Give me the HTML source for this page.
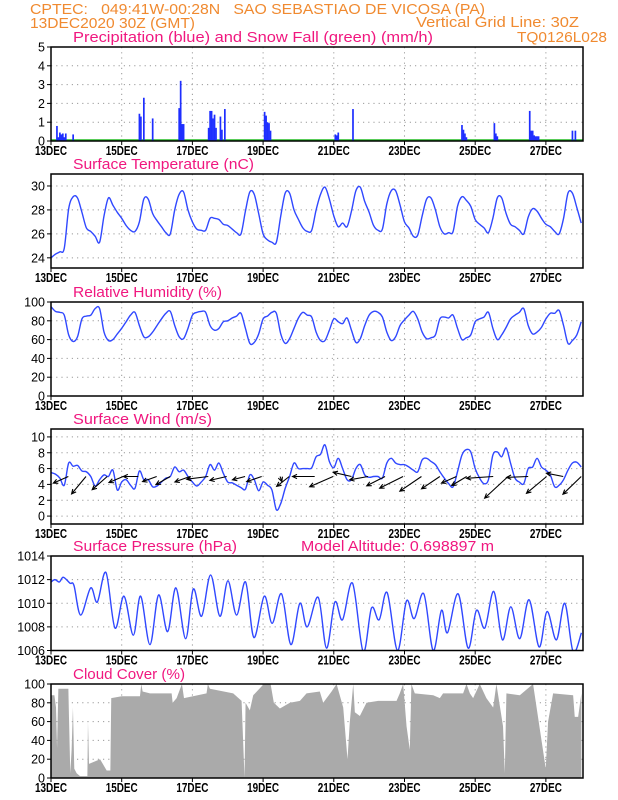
<!DOCTYPE html>
<html><head><meta charset="utf-8"><style>
html,body{margin:0;padding:0;background:#fff;}
svg{display:block;font-family:"Liberation Sans",sans-serif;}
text{white-space:pre;}
</style></head><body>
<svg id="chart" width="618" height="800" viewBox="0 0 618 800" xmlns="http://www.w3.org/2000/svg" xml:space="preserve"></svg>
<script>
// ---------- DATA ----------
const dayLabels = ["13DEC","15DEC","17DEC","19DEC","21DEC","23DEC","25DEC","27DEC"];
const precipHour = [4,5,6,7,8,9,10,15,60,61,63,69,87,88,89,90,107,108,109,110,111,112,115,116,118,145,146,147,148,149,193,194,195,205,279,280,281,282,301,302,303,325,326,327,328,329,330,331,354,356];
const precipVal = [0.8,0.2,0.45,0.35,0.4,0.2,0.4,0.35,1.45,1.3,2.3,1.2,1.75,3.2,0.9,0.9,0.7,1.6,1.6,1.2,1.4,0.7,1.3,0.6,1.7,1.55,1.35,1.0,0.95,0.55,0.35,0.3,0.45,1.7,0.85,0.6,0.4,0.2,0.95,0.4,0.25,1.6,0.55,0.55,0.3,0.25,0.25,0.25,0.55,0.55];
const precipTicks = [0,1,2,3,4,5];
const tempVals = [24.0,24.3,24.5,24.8,28.1,29.1,29.0,27.8, 26.5,26.2,25.8,25.3,27.5,29.0,28.4,27.8, 27.3,26.7,26.3,26.2,27.0,28.9,28.9,27.7, 27.1,26.6,26.1,26.0,28.0,29.3,29.5,28.0, 27.0,26.4,26.3,26.3,27.3,27.3,27.2,26.8, 26.7,26.4,26.1,26.0,27.9,29.5,29.3,27.7, 26.0,25.5,25.3,25.3,27.5,29.4,29.4,28.0, 27.2,26.5,26.2,26.3,28.0,29.3,29.9,28.9, 27.5,26.6,26.9,26.6,27.9,29.6,29.9,28.7, 27.8,26.7,26.3,26.4,28.5,29.6,29.6,28.4, 27.0,26.5,25.8,25.9,27.5,28.9,29.0,28.0, 26.6,26.0,26.1,26.2,28.3,29.1,28.8,28.3, 27.2,26.8,26.5,26.1,27.3,29.0,29.0,27.7, 26.8,26.6,26.3,26.0,27.4,28.1,27.9,27.3, 26.8,26.6,26.2,26.0,27.3,29.4,29.4,28.2, 26.9];
const tempTicks = [24,26,28,30];
const rhVals = [95,90,89,86,65,58,63,82, 85,86,93,93,68,59,60,66, 72,79,86,89,75,63,63,68, 75,82,88,90,75,63,61,72, 86,89,90,89,75,70,72,79, 80,83,85,88,72,56,57,66, 82,85,89,88,66,56,61,72, 83,89,86,84,68,59,59,70, 82,79,77,83,70,57,61,75, 86,90,89,84,68,59,63,75, 81,86,90,82,68,61,62,65, 82,84,83,86,72,60,62,65, 79,82,84,89,72,60,65,73, 82,86,89,93,75,66,68,73, 82,88,88,91,75,56,59,65, 79];
const rhTicks = [0,20,40,60,80,100];
const windVals = [5.5,5.3,4.8,3.9,6.7,6.3,6.4,5.7, 5.6,5.0,3.8,4.6,5.2,5.0,5.8,3.3, 4.3,4.6,3.9,3.5,5.7,4.6,4.6,3.7, 3.8,4.3,4.8,5.0,6.2,5.6,5.8,5.0, 4.3,3.8,4.3,5.0,6.5,5.8,6.7,5.4, 4.3,4.2,3.9,3.6,3.4,5.2,4.6,3.2, 4.3,3.9,3.3,0.8,1.6,3.5,5.0,6.7, 6.0,6.0,6.0,6.1,7.5,7.8,9.0,6.9, 6.1,7.3,6.0,4.6,4.6,6.0,6.5,5.2, 4.9,5.0,5.0,4.8,6.7,7.3,6.7,6.5, 6.5,6.2,5.8,5.6,7.1,7.3,6.9,6.5, 5.6,4.8,4.1,3.7,5.6,7.7,8.4,8.1, 6.0,4.8,4.1,4.6,7.7,8.1,7.5,8.6, 6.7,4.8,4.3,4.1,6.0,6.2,7.3,6.2, 5.8,5.2,3.7,3.9,4.6,5.8,6.7,6.8, 6.2];
const windTicks = [0,2,4,6,8,10];
const arrowDay = [0.49,0.99,1.59,2.04,2.47,2.99,3.37,3.93,4.45,4.97,5.49,5.96,6.48,6.74,7.46,7.98,8.50,8.97,9.45,9.96,10.48,11.0,11.47,11.76,12.51,12.93,13.5,14.02,14.49,15.0];
const arrowU = [-5,-4.8,-5,-4.7,-5,-4.7,-4.7,-5,-7.2,-5.6,-4.2,-5,0.6,-4.2,-7.4,-7.8,-6.1,-6.1,-6.1,-7.8,-7.2,-6.1,-5,-5,-8.9,-7.8,-7.2,-6.7,-5.6,-6.1];
const arrowV = [-2.2,-5.8,-4.4,-2,0,-1.7,-2.7,-1.8,-0.9,-1.3,-1.1,-1.7,-1.7,-3.3,0,-3.4,1.4,-1.1,-3.1,-3.9,-4.9,-4.1,-2.2,-3,-0.6,-7.2,-0.3,-5.6,1.1,-5.9];
const presDay = [0,0.113,0.236,0.349,0.537,0.650,0.839,1.122,1.310,1.555,1.810,2.064,2.328,2.535,2.799,3.044,3.299,3.534,3.808,4.024,4.260,4.515,4.779,5.005,5.250,5.504,5.740,6.032,6.258,6.522,6.786,7.040,7.248,7.559,7.795,8.030,8.247,8.530,8.831,9.067,9.284,9.510,9.802,10.057,10.273,10.547,10.811,11.046,11.216,11.518,11.800,12.036,12.272,12.526,12.771,13.007,13.261,13.525,13.808,14.034,14.298,14.534,14.770,15.006];
const presVal = [1011.8,1012.0,1011.8,1012.2,1011.7,1011.5,1009.0,1011.3,1010.1,1012.6,1007.9,1010.6,1007.3,1010.6,1006.5,1010.7,1007.6,1011.3,1007.0,1011.2,1008.9,1012.4,1008.9,1011.9,1009.0,1011.8,1007.1,1010.6,1008.3,1010.8,1006.5,1010.0,1008.0,1010.5,1006.2,1010.1,1008.6,1011.7,1005.9,1009.6,1008.6,1010.9,1006.0,1010.2,1008.7,1010.8,1006.0,1009.4,1007.5,1010.8,1006.2,1009.4,1007.9,1011.0,1006.9,1009.7,1007.0,1010.3,1006.3,1009.3,1006.9,1010.0,1005.9,1007.5];
const presTicks = [1006,1008,1010,1012,1014];
const cloudHour = [0,2.3,3.4,4.1,5.0,11.8,12.2,13.1,14.0,14.9,15.8,17.4,19.7,24.7,25.1,25.8,33.3,37.8,40.3,40.9,48.0,60.4,61.3,62.2,67.2,81.9,82.6,85.3,88.9,90.3,105.6,106.5,107.9,123.7,129.4,131.4,132.1,135.0,137.3,144.5,149.1,151.3,155.4,162.2,169.0,173.5,182.5,184.8,190.5,193.9,198.4,201.3,202.9,205.2,206.3,209.7,214.2,222.1,234.6,236.8,239.1,241.4,243.6,244.7,247.0,259.5,264.0,266.2,279.8,282.1,284.4,286.6,291.1,295.6,300.2,302.4,306.9,308.1,309.2,318.3,327.3,335.9,337.5,340.9,354.5,355.6,357.9,360.1];
const cloudVal = [88,88,75,32,95,95,65,5,30,75,10,5,2,2,60,15,20,8,8,85,87,87,100,92,90,90,80,85,100,85,90,100,95,90,82,0,80,72,88,100,100,80,74,80,82,90,92,80,92,100,75,20,60,100,70,66,80,82,82,90,100,55,30,100,90,88,85,90,90,100,90,85,100,85,75,100,55,5,90,88,100,10,60,90,88,65,65,90];
const cloudTicks = [0,20,40,60,80,100];

// ---------- LAYOUT ----------
const NS = "http://www.w3.org/2000/svg";
const svg = document.getElementById("chart");
const X0 = 51, X1 = 583, DMAX = 15.05;
const ORANGE = "#f08a30", PINK = "#f0177f", BLUE = "#3048ff";
function xs(d){ return X0 + (X1 - X0) * d / DMAX; }
function mk(tag, attrs, parent){
  const e = document.createElementNS(NS, tag);
  for (const k in attrs) e.setAttribute(k, attrs[k]);
  (parent || svg).appendChild(e);
  return e;
}
function txt(s, x, y, size, color, anchor, len, name){
  const t = mk("text", {x:x, y:y, "font-size":size, fill:color, "text-anchor":anchor||"start"});
  if (len) { t.setAttribute("textLength", len); t.setAttribute("lengthAdjust", "spacingAndGlyphs"); }
  t.textContent = s;
  
  
  return t;
}
function smooth(pts){
  let d = "M" + pts[0][0].toFixed(2) + "," + pts[0][1].toFixed(2);
  for (let i = 0; i < pts.length - 1; i++){
    const p0 = pts[Math.max(0,i-1)], p1 = pts[i], p2 = pts[i+1], p3 = pts[Math.min(pts.length-1,i+2)];
    const c1x = p1[0] + (p2[0]-p0[0])/6, c1y = p1[1] + (p2[1]-p0[1])/6;
    const c2x = p2[0] - (p3[0]-p1[0])/6, c2y = p2[1] - (p3[1]-p1[1])/6;
    d += "C" + c1x.toFixed(2)+","+c1y.toFixed(2)+" "+c2x.toFixed(2)+","+c2y.toFixed(2)+" "+p2[0].toFixed(2)+","+p2[1].toFixed(2);
  }
  return d;
}

// header
txt("CPTEC:   049:41W-00:28N   SAO SEBASTIAO DE VICOSA (PA)", 30, 14, 15, ORANGE, "start", 455, "station-header");
txt("13DEC2020 30Z (GMT)", 30, 28, 15, ORANGE, "start", 165, "date-header");
txt("Vertical Grid Line: 30Z", 579, 27, 15, ORANGE, "end", 163, "grid-line-note");
txt("TQ0126L028", 607, 42, 15, ORANGE, "end", 90, "model-name");

function panel(name, top, bottom, min, max, ticks, title, titleLen, tickFmt){
  const g = mk("g", {});
  
  
  const ys = v => bottom - (v - min) / (max - min) * (bottom - top);
  const cid = name + "-clip";
  const cp = mk("clipPath", {id: cid}, g);
  mk("rect", {x:X0, y:top, width:X1-X0, height:bottom-top}, cp);
  ticks.forEach(v => {
    const y = ys(v);
    const l = mk("line", {x1:X0, x2:X1, y1:y, y2:y, stroke:"#999", "stroke-width":1, "stroke-dasharray":"1.2,4"}, g);
    
    
    mk("line", {x1:X0-4, x2:X0, y1:y, y2:y, stroke:"#000", "stroke-width":1}, g);
    const t = txt(tickFmt ? tickFmt(v) : String(v), X0-6, y+4.5, 12.5, "#000", "end", null, name + "-y-tick-label");
    g.appendChild(t);
  });
  dayLabels.forEach((s, i) => {
    const x = xs(i*2);
    if (i > 0) {
      const l = mk("line", {x1:x, x2:x, y1:top, y2:bottom, stroke:"#999", "stroke-width":1, "stroke-dasharray":"1.2,4"}, g);
      
      
    }
    mk("line", {x1:x, x2:x, y1:bottom, y2:bottom+4, stroke:"#000", "stroke-width":1}, g);
    const t = txt(s, x, bottom+14, 12.5, "#000", "middle", 32, name + "-x-tick-label");
    t.setAttribute("font-weight", "bold");
    g.appendChild(t);
  });
  const tt = txt(title, 73, top-5, 15, PINK, "start", titleLen, name + "-title");
  g.appendChild(tt);
  return {g, ys, top, bottom, clip:"url(#"+cid+")"};
}
function frame(p, name){
  const r = mk("rect", {x:X0, y:p.top, width:X1-X0, height:p.bottom-p.top, fill:"none", stroke:"#000", "stroke-width":1.5}, p.g);
  
  
}

// ---- Panel 1 precip
const p1 = panel("precip", 47, 141, 0, 5, precipTicks, "Precipitation (blue) and Snow Fall (green) (mm/h)", 360);
const snow = mk("line", {x1:X0, x2:X1, y1:140.3, y2:140.3, stroke:"#22bb22", "stroke-width":2}, p1.g);


precipHour.forEach((h, i) => {
  const x = xs(h/24), y = p1.ys(precipVal[i]);
  const b = mk("rect", {x:x-0.8, y:y, width:1.7, height:p1.bottom - y, fill:"#1e2eff"}, p1.g);
  
  
});
frame(p1, "precip");

const t3h = i => i * 3 / 24;
function linePanel(p, vals, name){
  const pts = vals.map((v, i) => [xs(t3h(i)), p.ys(v)]);
  const path = mk("path", {d:smooth(pts), fill:"none", stroke:BLUE, "stroke-width":1.4, "clip-path":p.clip}, p.g);
  
  
}
const p2 = panel("temperature", 174, 268, 23.15, 31, tempTicks, "Surface Temperature (nC)", 181);
linePanel(p2, tempVals, "temperature");
frame(p2, "temperature");
const p3 = panel("humidity", 302, 396, 0, 100, rhTicks, "Relative Humidity (%)", 149);
linePanel(p3, rhVals, "humidity");
frame(p3, "humidity");
const p4 = panel("wind", 429, 524, -1, 11, windTicks, "Surface Wind (m/s)", 139);
linePanel(p4, windVals, "wind-speed");
arrowDay.forEach((d, i) => {
  const x0 = xs(d), y0 = p4.ys(5);
  const x1 = x0 + arrowU[i]*3, y1 = y0 - arrowV[i]*3;
  const ang = Math.atan2(y1-y0, x1-x0);
  const hl = 5;
  const a1 = [x1 - hl*Math.cos(ang-0.45), y1 - hl*Math.sin(ang-0.45)];
  const a2 = [x1 - hl*Math.cos(ang+0.45), y1 - hl*Math.sin(ang+0.45)];
  const ar = mk("path", {d:"M"+x0+","+y0+"L"+x1+","+y1+"M"+a1[0]+","+a1[1]+"L"+x1+","+y1+"L"+a2[0]+","+a2[1], fill:"none", stroke:"#000", "stroke-width":1.1}, p4.g);
  
  
});
frame(p4, "wind");
const p5 = panel("pressure", 556, 650.5, 1006, 1014, presTicks, "Surface Pressure (hPa)", 164);
const ppts = presDay.map((d, i) => [xs(d), p5.ys(presVal[i])]);
const pp = mk("path", {d:smooth(ppts), fill:"none", stroke:BLUE, "stroke-width":1.4, "clip-path":p5.clip}, p5.g);


txt("Model Altitude: 0.698897 m", 301, 551, 15, PINK, "start", 193, "model-altitude");
frame(p5, "pressure");
const p6 = panel("cloud", 684, 778, 0, 100, cloudTicks, "Cloud Cover (%)", 112);
let cd = "M" + xs(0) + "," + p6.bottom;
cloudHour.forEach((h, i) => { cd += "L" + xs(h/24).toFixed(2) + "," + p6.ys(cloudVal[i]).toFixed(2); });
cd += "L" + xs(cloudHour[cloudHour.length-1]/24).toFixed(2) + "," + p6.bottom + "Z";
const area = mk("path", {d:cd, fill:"#aaaaaa", stroke:"none", "clip-path":p6.clip}, p6.g);


frame(p6, "cloud");
</script>
</body></html>
